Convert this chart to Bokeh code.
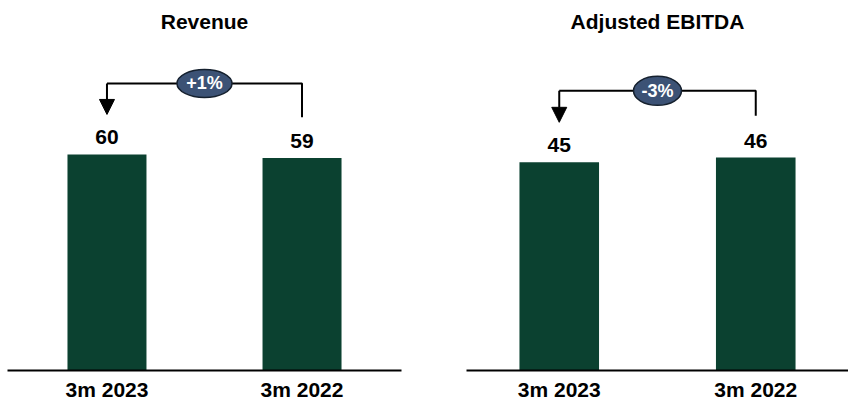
from bokeh.plotting import figure
from bokeh.layouts import row
from bokeh.models import ColumnDataSource, FactorRange, Range1d, LabelSet, Arrow, NormalHead
from bokeh.transform import dodge
from bokeh.core.properties import value
from bokeh.embed import file_html
from bokeh.resources import INLINE

# ---- data ----
periods = ["3m 2023", "3m 2022"]
revenue = [60, 59]
ebitda = [45, 46]
revenue_change = "+1%"
ebitda_change = "-3%"

BAR = "#0B4130"
PILL = "#3C5275"
FONT = "Liberation Sans"
H = 403          # figure height
FRAME_H = 371    # frame height (frame top at page top, axis at 371)
AXIS_H = 325     # pixels used by the nominal value axis


def panel(title, vals, change, axis_max, width, bl, br, pad,
          bracket_y, tail_y, tip_y, ell_w, ell_h):
    y_end = axis_max * FRAME_H / AXIS_H
    p = figure(x_range=FactorRange(*periods, range_padding=pad, range_padding_units="absolute"),
               y_range=Range1d(0, y_end),
               width=width, height=H, title=None,
               output_backend="svg", toolbar_location=None,
               min_border_left=bl, min_border_right=br,
               min_border_top=0, min_border_bottom=H - FRAME_H)
    p.outline_line_color = None
    p.xgrid.visible = False
    p.ygrid.visible = False
    p.yaxis.visible = False
    ax = p.xaxis[0]
    ax.axis_line_width = 2
    ax.axis_line_color = "black"
    ax.major_tick_line_color = None
    ax.minor_tick_line_color = None
    ax.major_tick_out = 0
    ax.major_tick_in = 0
    ax.major_label_standoff = 7
    ax.major_label_text_font = FONT
    ax.major_label_text_font_size = "21px"
    ax.major_label_text_font_style = "bold"
    ax.major_label_text_color = "black"

    src = ColumnDataSource(dict(x=periods, top=vals, lbl=[str(v) for v in vals]))
    p.vbar(x="x", top="top", width=0.405, source=src, fill_color=BAR, line_color=None)
    p.add_layout(LabelSet(x="x", y="top", text="lbl", source=src, y_offset=10,
                          text_align="center", text_baseline="alphabetic",
                          text_font=value(FONT), text_font_size="21px",
                          text_font_style="bold", text_color="black"))

    # chart title, centred over the two bars
    tsrc = ColumnDataSource(dict(x=[periods[0]], y=[y_end * (1 - 21.5 / FRAME_H)], t=[title]))
    xm_t = dodge("x", 0.5, range=p.x_range)
    p.text(x=xm_t, y="y", text="t", source=tsrc, text_align="center",
           text_baseline="alphabetic", text_color="black", text_font=value(FONT),
           text_font_style="bold", text_font_size="21px")

    # bracket from second period back to first
    p.line(x=[periods[1], periods[1], periods[0]], y=[tail_y, bracket_y, bracket_y],
           line_color="black", line_width=2)
    asrc = ColumnDataSource(dict(x0=[periods[0]], y0=[bracket_y], x1=[periods[0]], y1=[tip_y]))
    p.add_layout(Arrow(x_start="x0", y_start="y0", x_end="x1", y_end="y1", source=asrc,
                       line_color="black", line_width=2,
                       end=NormalHead(size=15, fill_color="black", line_color="black")))

    esrc = ColumnDataSource(dict(x=[periods[0]], y=[bracket_y], t=[change]))
    xm = dodge("x", 0.5, range=p.x_range)
    p.ellipse(x=xm, y="y", width=ell_w, height=ell_h, width_units="screen",
              height_units="screen", source=esrc, fill_color=PILL,
              line_color="#15202e", line_width=1.5)
    p.text(x=xm, y="y", text="t", source=esrc, text_align="center",
           text_baseline="middle", text_color="white", text_font=value(FONT),
           text_font_style="bold", text_font_size="18px")
    return p


p1 = panel("Revenue", revenue, revenue_change, 90, 433, 7, 32, 0.01,
           79.7, 70.3, 71.1, 55, 28)
p2 = panel("Adjusted EBITDA", ebitda, ebitda_change, 70, 415, 33, 0, -0.028,
           60.4, 55.0, 53.6, 48, 29)

layout = row(p1, p2)
open("out.html", "w").write(file_html(layout, INLINE))
